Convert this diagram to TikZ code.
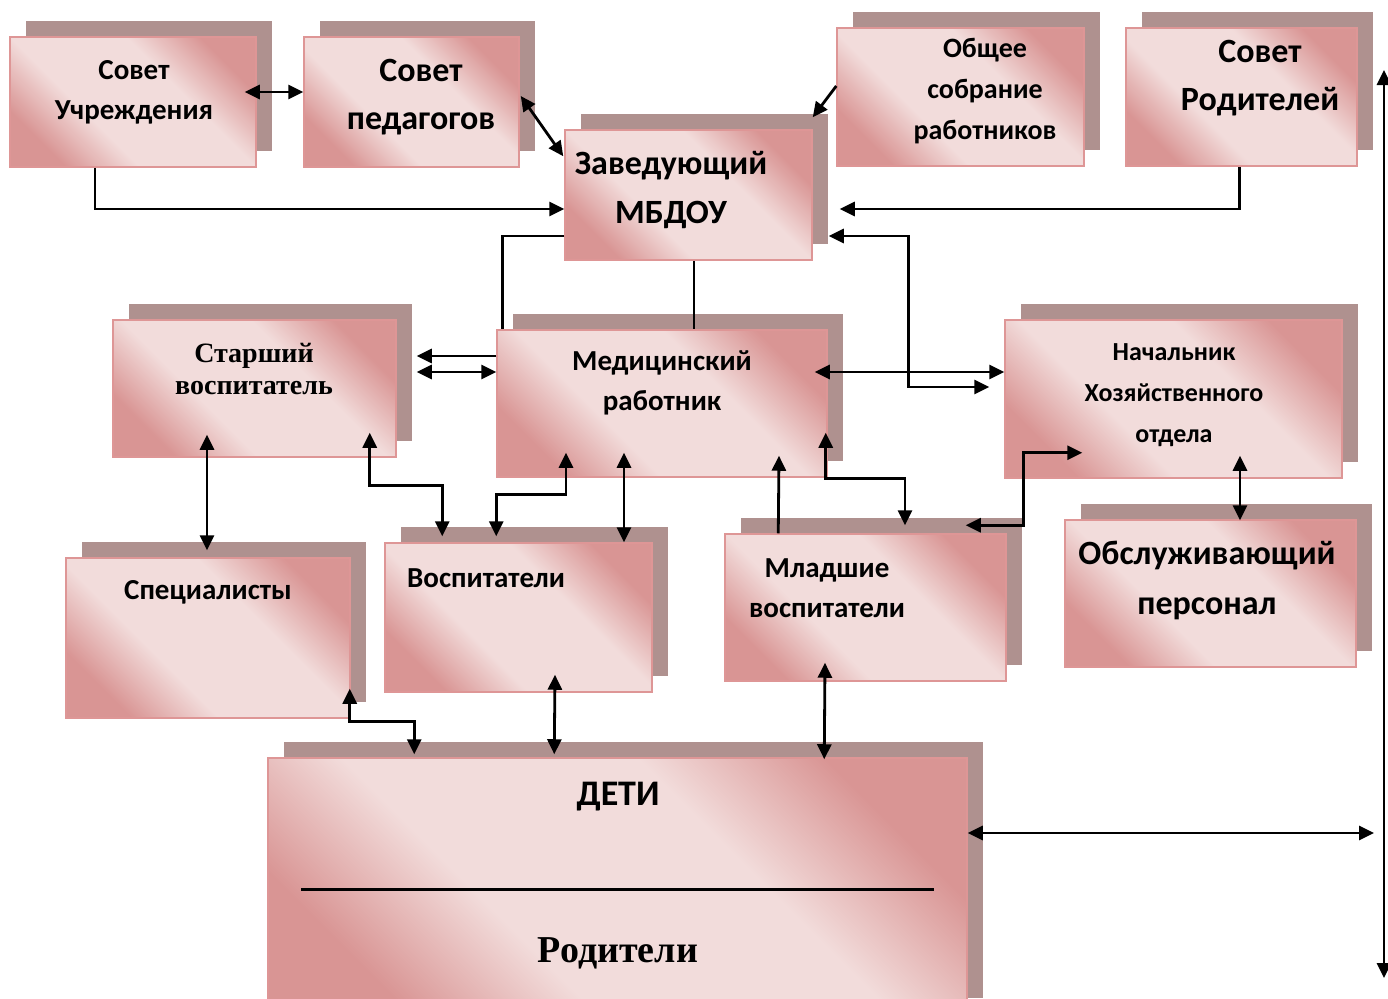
\documentclass[tikz,border=0pt]{standalone}
\usepackage{fontspec}
\setmainfont{Carlito}
\newfontfamily\tnr{Liberation Serif}
\usetikzlibrary{arrows.meta,shadows}
%
\definecolor{boxlight}{RGB}{242,220,219}
\definecolor{boxdark}{RGB}{217,149,148}
\definecolor{boxedge}{RGB}{222,150,150}
\definecolor{boxshadow}{RGB}{175,145,143}
\pgfdeclarehorizontalshading{pinkbox}{100bp}{color(0bp)=(boxdark); color(25bp)=(boxdark);
  color(39bp)=(boxlight); color(61bp)=(boxlight); color(75bp)=(boxdark); color(100bp)=(boxdark)}
%
\tikzset{
  orgbox/.style={draw=boxedge, line width=1.5pt, shading=pinkbox, shading angle=45,
    general shadow={fill=boxshadow, shadow xshift=16pt, shadow yshift=16pt}, inner sep=0pt},
  lbl/.style 2 args={font=\bfseries\fontsize{#1}{#2}\selectfont, align=center, inner sep=0pt},
  lbls/.style 2 args={font=\tnr\bfseries\fontsize{#1}{#2}\selectfont, align=center, inner sep=0pt},
  link/.style={line width=2.8pt},
  one/.style={link, -{Triangle[length=15pt,width=14pt]}},
  both/.style={link, {Triangle[length=15pt,width=14pt]}-{Triangle[length=15pt,width=14pt]}},
}
\begin{document}
\begin{tikzpicture}[x=1pt,y=-1pt]
\useasboundingbox (0,0) rectangle (1388,998);
%
% Blocs
\node[orgbox, minimum width=246pt, minimum height=130pt] (sovuch) at (133,102)   {};
\node[orgbox, minimum width=215pt, minimum height=130pt] (sovped) at (411.5,102) {};
\node[orgbox, minimum width=247pt, minimum height=130pt] (zav)    at (688.5,195) {};
\node[orgbox, minimum width=247pt, minimum height=138pt] (obsh)   at (960.5,97)  {};
\node[orgbox, minimum width=231pt, minimum height=138pt] (sovrod) at (1241.5,97) {};
\node[orgbox, minimum width=283pt, minimum height=137pt] (starsh) at (254.5,388.5) {};
\node[orgbox, minimum width=330pt, minimum height=147pt] (med)    at (662,403.5) {};
\node[orgbox, minimum width=337pt, minimum height=158pt] (nach)   at (1173.5,399) {};
\node[orgbox, minimum width=284pt, minimum height=160pt] (spec)   at (208,638)   {};
\node[orgbox, minimum width=267pt, minimum height=149pt] (vosp)   at (518.5,617.5) {};
\node[orgbox, minimum width=281pt, minimum height=147pt] (mlad)   at (865.5,607.5) {};
\node[orgbox, minimum width=291pt, minimum height=147pt] (obsl)   at (1210.5,593.5) {};
\node[orgbox, minimum width=699pt, minimum height=256pt] (deti)   at (617.5,886) {};
%
% Textes
\node[lbl={29}{40}]  (t-sovuch) at (134,92)   {Совет\\Учреждения};
\node[lbl={34}{48}]  (t-sovped) at (421,97)   {Совет\\педагогов};
\node[lbl={34}{49}]  (t-zav)    at (671,190)  {Заведующий\\МБДОУ};
\node[lbl={28}{41}]  (t-obsh)   at (985,91)   {Общее\\собрание\\работников};
\node[lbl={34}{48}]  (t-sovrod) at (1260,78)  {Совет\\Родителей};
\node[lbls={28}{32}] (t-starsh) at (254,369)  {Старший\\воспитатель};
\node[lbl={29}{40}]  (t-med)    at (662,383)  {Медицинский\\работник};
\node[lbl={26}{41}]  (t-nach)   at (1174,395) {Начальник\\Хозяйственного\\отдела};
\node[lbl={29}{40}]  (t-spec)   at (208,592)  {Специалисты};
\node[lbl={29}{40}, anchor=west] (t-vosp) at (407,578) {Воспитатели};
\node[lbl={29}{40}]  (t-mlad)   at (827,588)  {Младшие\\воспитатели};
\node[lbl={34}{50}]  (t-obsl)   at (1207,580) {Обслуживающий\\персонал};
\node[lbl={36}{40}]  (t-deti)   at (618,797)  {ДЕТИ};
\node[lbls={38}{40}] (t-rod)    at (618,953)  {Родители};
\draw[line width=3pt] ([shift={(34,132)}]deti.north west) -- ([shift={(-34,132)}]deti.north east);
%
% Liaisons
\coordinate (rtop) at (1384,70);
\coordinate (rbot) at (1384,978);
\coordinate (rmid) at (1374,833);
\draw[both] ([shift={(-12,-10)}]sovuch.east) -- ([shift={(0,-10)}]sovped.west);
\draw[both] ([shift={(1,-6)}]sovped.east) -- ([shift={(-1,27)}]zav.north west);
\draw[one]  ([shift={(-38,0)}]sovuch.south) |- ([shift={(0,14)}]zav.west);
\draw[one]  ([shift={(-2,0)}]sovrod.south) |- ([shift={(27,14)}]zav.east);
\draw[one]  ([shift={(0,-11)}]obsh.west) -- ([shift={(0,-12)}]zav.north east);
\draw[link] ([shift={(0,41)}]zav.west) -| ([shift={(6,0)}]med.north west);
\draw[link] ([shift={(5.5,0)}]zav.south) -- ([shift={(32,0)}]med.north);
\draw[both] ([shift={(16,41)}]zav.east) -- ++(80,0) |- ([shift={(-15,-12)}]nach.west);
\draw[both] ([shift={(-13,-31.5)}]med.east) -- ([shift={(0,-27)}]nach.west);
\draw[one]  ([shift={(0,-47.5)}]med.west) -- ([shift={(20,-32.5)}]starsh.east);
\draw[both] ([shift={(20,-16.5)}]starsh.east) -- ([shift={(0,-31.5)}]med.west);
\draw[both] ([shift={(-47.5,-23)}]starsh.south) -- ([shift={(-1,-7)}]spec.north);
\draw[both] ([shift={(-27,-25)}]starsh.south east) -- ++(0,53) -| ([shift={(58,-6)}]vosp.north west);
\draw[both] ([shift={(-96,-25)}]med.south) -- ++(0,42) -| ([shift={(112,-6)}]vosp.north west);
\draw[both] ([shift={(-38,-25)}]med.south) -- ([shift={(105.5,0)}]vosp.north);
\draw[one]  ([shift={(54,0)}]mlad.north west) -- ([shift={(117,-22)}]med.south);
\draw[both] ([shift={(-2,-45)}]med.south east) -- ++(0,46) -| ([shift={(39.5,-8)}]mlad.north);
\draw[both] ([shift={(-41,-8)}]mlad.north east) -- ++(58,0) |- ([shift={(78,-26)}]nach.south west);
\draw[both] ([shift={(66.5,-23)}]nach.south) -- ([shift={(29.5,1)}]obsl.north);
\draw[both] ([shift={(-1,-30)}]spec.south east) -- ++(0,33) -| ([shift={(147,-3)}]deti.north west);
\draw[both] ([shift={(36.5,-18)}]vosp.south) -- ([shift={(287,-3)}]deti.north west);
\draw[both] ([shift={(-40.5,-19)}]mlad.south) -- ([shift={(557,2)}]deti.north west);
\draw[both] ([shift={(0,-53)}]deti.east) -- (rmid);
\draw[both] (rtop) -- (rbot);
%
\end{tikzpicture}
\end{document}
